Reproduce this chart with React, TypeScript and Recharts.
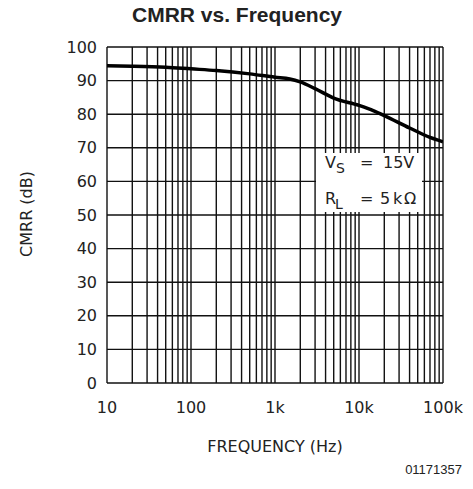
import React from "react";
import { LineChart, Line, XAxis, YAxis, CartesianGrid } from "recharts";

// frequency (Hz) and CMRR (dB)
const freqs = [10, 20, 50, 100, 200, 500, 1000, 1500, 2000, 3000, 5000, 10000, 15000, 20000, 40000, 70000, 100000];
const cmrr = [94.4, 94.3, 94.0, 93.5, 93.0, 92.0, 91.0, 90.5, 89.6, 87.6, 84.8, 82.6, 81.0, 79.6, 75.9, 73.1, 71.8];

const decades = [10, 100, 1000, 10000, 100000];
const decadeLabels = ["10", "100", "1k", "10k", "100k"];
const yTicks = [0, 10, 20, 30, 40, 50, 60, 70, 80, 90, 100];

// log grid: 1..9 x each decade
const xGrid: number[] = [];
decades.slice(0, 4).forEach((d) => {
  for (let m = 1; m < 10; m++) xGrid.push(d * m);
});
xGrid.push(100000);

const data = freqs.map((f, i) => ({ f, v: cmrr[i] }));

const W = 473;
const H = 489;
const tickFont = { fontFamily: "DejaVu Sans", fontSize: 16, fill: "#222" };

export default function App() {
  return (
    <div style={{ position: "absolute", left: 0, top: 0, width: W, height: H, background: "#fff" }}>
      <LineChart width={W} height={H} data={data} margin={{ top: 47, right: 30, left: 47, bottom: 76 }}>
        <CartesianGrid stroke="#111" strokeWidth={1.4} />
        <XAxis
          dataKey="f"
          type="number"
          scale="log"
          domain={[10, 100000]}
          ticks={xGrid}
          interval={0}
          allowDataOverflow
          height={30}
          axisLine={false}
          tickLine={false}
          tickSize={0}
          tickMargin={19}
          tick={tickFont}
          tickFormatter={(v: number) => {
            const i = decades.indexOf(v);
            return i >= 0 ? decadeLabels[i] : "";
          }}
        />
        <YAxis
          type="number"
          domain={[0, 100]}
          ticks={yTicks}
          interval={0}
          width={60}
          axisLine={false}
          tickLine={false}
          tickSize={0}
          tickMargin={10}
          tick={tickFont}
        />
        <Line
          type="monotone"
          dataKey="v"
          stroke="#000"
          strokeWidth={3.5}
          dot={false}
          isAnimationActive={false}
        />
      </LineChart>
      <svg
        width={W}
        height={H}
        style={{ position: "absolute", left: 0, top: 0, pointerEvents: "none" }}
      >
        <text x={237} y={21.5} textAnchor="middle" fontFamily="Liberation Sans" fontWeight="bold" fontSize={21} fill="#222">
          CMRR vs. Frequency
        </text>
        <text
          x={0}
          y={0}
          transform="translate(32,214) rotate(-90)"
          textAnchor="middle"
          fontFamily="DejaVu Sans"
          fontSize={16}
          fill="#222"
        >
          CMRR (dB)
        </text>
        <text x={275} y={452} textAnchor="middle" fontFamily="DejaVu Sans" fontSize={16} fill="#222">
          FREQUENCY (Hz)
        </text>
        <text x={462} y={474} textAnchor="end" fontFamily="Liberation Sans" fontSize={13} fill="#222">
          01171357
        </text>
        <rect x={316} y={153} width={106} height={59} fill="#fff" />
        <g fontFamily="DejaVu Sans" fontSize={16} fill="#222">
          <text x={325} y={168}>V</text>
          <text x={336} y={173} fontSize={14}>S</text>
          <text x={360} y={168}>=</text>
          <text x={383} y={168}>15V</text>
          <text x={325} y={204}>R</text>
          <text x={335} y={209} fontSize={14}>L</text>
          <text x={360} y={204}>=</text>
          <text x={380} y={204}>5</text>
          <text x={393} y={204}>k</text>
          <text x={404} y={204}>Ω</text>
        </g>
      </svg>
    </div>
  );
}
